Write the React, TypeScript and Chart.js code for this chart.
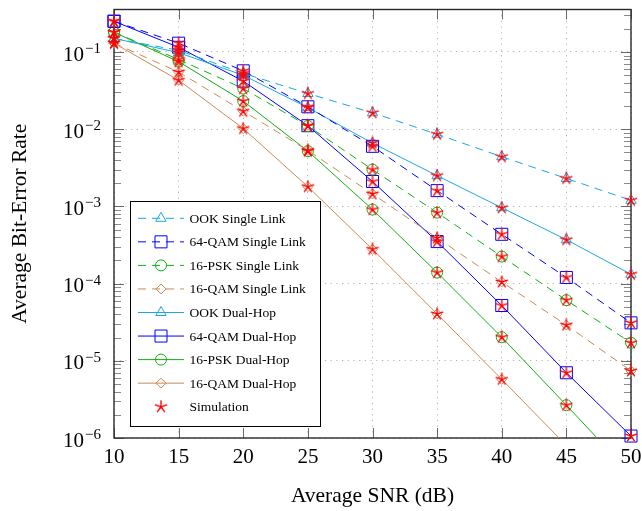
import React, { useEffect, useRef } from 'react';
import { Chart, registerables } from 'chart.js';

Chart.register(...registerables);

// ---------------- data ----------------
const snr = [10, 15, 20, 25, 30, 35, 40, 45, 50];

const ookSingle = [0.15, 0.105, 0.053, 0.029, 0.0163, 0.0086, 0.0044, 0.0023, 0.0012];
const qam64Single = [0.25, 0.13, 0.057, 0.0195, 0.006, 0.0016, 0.000435, 0.00012, 3.1e-5];
const psk16Single = [0.18, 0.08, 0.0336, 0.011, 0.003, 0.00083, 0.000224, 6.1e-5, 1.71e-5];
const qam16Single = [0.13, 0.055, 0.0171, 0.0053, 0.00145, 0.00039, 0.000105, 2.9e-5, 7.4e-6];
const ookDual = [0.15, 0.098, 0.05, 0.019, 0.0066, 0.0025, 0.00096, 0.00037, 0.000132];
const qam64Dual = [0.25, 0.115, 0.042, 0.0111, 0.0021, 0.00035, 5.2e-5, 7e-6, 1.06e-6];
const psk16Dual = [0.18, 0.075, 0.0231, 0.0052, 0.00091, 0.000139, 2.02e-5, 2.66e-6, 3.4e-7];
const qam16Dual = [0.13, 0.043, 0.0102, 0.0018, 0.000278, 4.05e-5, 5.75e-6, 8e-7, 1.1e-7];

const seriesLabels = [
  'OOK Single Link',
  '64-QAM Single Link',
  '16-PSK Single Link',
  '16-QAM Single Link',
  'OOK Dual-Hop',
  '64-QAM Dual-Hop',
  '16-PSK Dual-Hop',
  '16-QAM Dual-Hop',
];
const simulationLabel = 'Simulation';

const xTicks = [10, 15, 20, 25, 30, 35, 40, 45, 50];
const yExponents = [-6, -5, -4, -3, -2, -1];
const xTitle = 'Average SNR (dB)';
const yTitle = 'Average Bit-Error Rate';

const X_MIN = 10;
const X_MAX = 50;
const Y_MIN = 1e-6;
const Y_MAX = 0.355;

// ---------------- styles ----------------
const C_OOK = '#1ca7e3';
const C_Q64 = '#0000ff';
const C_PSK = '#12b012';
const C_Q16 = '#c98b55';
const C_SIM = '#ff0000';

type Marker = 'triangle' | 'rect' | 'circle' | 'rectRot' | 'star';
const seriesValues = [ookSingle, qam64Single, psk16Single, qam16Single, ookDual, qam64Dual, psk16Dual, qam16Dual];
const seriesStyle: { color: string; dashed: boolean; marker: Marker; radius: number }[] = [
  { color: C_OOK, dashed: true, marker: 'triangle', radius: 6 },
  { color: C_Q64, dashed: true, marker: 'rect', radius: 8.5 },
  { color: C_PSK, dashed: true, marker: 'circle', radius: 5.5 },
  { color: C_Q16, dashed: true, marker: 'rectRot', radius: 5 },
  { color: C_OOK, dashed: false, marker: 'triangle', radius: 6 },
  { color: C_Q64, dashed: false, marker: 'rect', radius: 8.5 },
  { color: C_PSK, dashed: false, marker: 'circle', radius: 5.5 },
  { color: C_Q16, dashed: false, marker: 'rectRot', radius: 5 },
];
const DASH = [8, 6];
const FONT = '"Liberation Serif", "Times New Roman", serif';

function makeStar(): HTMLCanvasElement {
  const c = document.createElement('canvas');
  c.width = 14;
  c.height = 14;
  const g = c.getContext('2d')!;
  g.strokeStyle = C_SIM;
  g.lineWidth = 1.35;
  g.lineCap = 'round';
  const cx = 7, cy = 7, r = 6;
  g.beginPath();
  for (let k = 0; k < 5; k++) {
    const a = -Math.PI / 2 + (k * 2 * Math.PI) / 5;
    g.moveTo(cx, cy);
    g.lineTo(cx + r * Math.cos(a), cy + r * Math.sin(a));
  }
  g.stroke();
  return c;
}

function drawMarker(ctx: CanvasRenderingContext2D, m: Marker, x: number, y: number, r: number, color: string, star: HTMLCanvasElement) {
  if (m === 'star') {
    ctx.drawImage(star, x - star.width / 2, y - star.height / 2);
    return;
  }
  ctx.save();
  ctx.strokeStyle = color;
  ctx.lineWidth = 1;
  ctx.setLineDash([]);
  ctx.beginPath();
  if (m === 'triangle') {
    ctx.moveTo(x, y - r);
    ctx.lineTo(x + 0.866 * r, y + 0.5 * r);
    ctx.lineTo(x - 0.866 * r, y + 0.5 * r);
    ctx.closePath();
  } else if (m === 'rect') {
    const s = Math.SQRT1_2 * r;
    ctx.rect(x - s, y - s, 2 * s, 2 * s);
  } else if (m === 'circle') {
    ctx.arc(x, y, r, 0, Math.PI * 2);
  } else if (m === 'rectRot') {
    ctx.moveTo(x - r, y);
    ctx.lineTo(x, y - r);
    ctx.lineTo(x + r, y);
    ctx.lineTo(x, y + r);
    ctx.closePath();
  }
  ctx.stroke();
  ctx.restore();
}

export default function App() {
  const ref = useRef<HTMLCanvasElement>(null);

  useEffect(() => {
    const canvas = ref.current;
    if (!canvas) return;
    const star = makeStar();

    const lineDatasets = seriesValues.map((vals, i) => {
      const st = seriesStyle[i];
      const below = vals.some((v) => v < Y_MIN);
      return {
        label: seriesLabels[i],
        data: snr.map((x, j) => ({ x, y: vals[j] })),
        borderColor: st.color,
        borderWidth: 1,
        borderDash: st.dashed ? DASH : [],
        backgroundColor: 'transparent',
        fill: false,
        tension: 0,
        pointStyle: st.marker,
        pointRadius: st.radius,
        pointBorderWidth: 1,
        pointBorderColor: st.color,
        pointBackgroundColor: 'rgba(0,0,0,0)',
        clip: { left: 12, right: 12, top: 12, bottom: below ? 0 : 8 },
        order: 1,
      };
    });

    const simPoints: { x: number; y: number }[] = [];
    seriesValues.forEach((vals) => {
      vals.forEach((v, j) => {
        if (v >= Y_MIN) simPoints.push({ x: snr[j], y: v });
      });
    });

    const simDataset = {
      label: simulationLabel,
      data: simPoints,
      showLine: false,
      pointStyle: star,
      pointRadius: 6,
      borderColor: C_SIM,
      backgroundColor: C_SIM,
      clip: { left: 12, right: 12, top: 12, bottom: 8 },
      order: 0,
    };

    const framePlugin = {
      id: 'frameTicks',
      beforeDatasetsDraw(chart: any) {
        const { ctx, chartArea } = chart;
        const xs = chart.scales.x;
        const ys = chart.scales.y;
        const { left, right, top, bottom } = chartArea;
        ctx.save();
        ctx.setLineDash([]);
        // minor y ticks
        ctx.strokeStyle = '#8a8a8a';
        ctx.lineWidth = 1;
        ctx.beginPath();
        for (let e = -7; e <= 0; e++) {
          for (let k = 2; k <= 9; k++) {
            const v = k * Number('1e' + e);
            if (v <= Y_MIN || v >= Y_MAX) continue;
            const py = Math.round(ys.getPixelForValue(v)) + 0.5;
            ctx.moveTo(left, py);
            ctx.lineTo(left + 7, py);
            ctx.moveTo(right, py);
            ctx.lineTo(right - 7, py);
          }
        }
        ctx.stroke();
        // major ticks
        ctx.strokeStyle = '#6a6a6a';
        ctx.beginPath();
        yExponents.forEach((e) => {
          const py = Math.round(ys.getPixelForValue(Number('1e' + e))) + 0.5;
          ctx.moveTo(left, py);
          ctx.lineTo(left + 10, py);
          ctx.moveTo(right, py);
          ctx.lineTo(right - 10, py);
        });
        xTicks.forEach((v) => {
          const px = Math.round(xs.getPixelForValue(v)) + 0.5;
          ctx.moveTo(px, bottom);
          ctx.lineTo(px, bottom - 10);
          ctx.moveTo(px, top);
          ctx.lineTo(px, top + 10);
        });
        ctx.stroke();
        // frame
        ctx.strokeStyle = '#2a2a2a';
        ctx.lineWidth = 1.4;
        ctx.strokeRect(left, top, right - left, bottom - top);

        // tick labels
        ctx.fillStyle = '#000';
        ctx.font = `21px ${FONT}`;
        ctx.textAlign = 'center';
        ctx.textBaseline = 'alphabetic';
        xTicks.forEach((v) => {
          ctx.fillText(String(v), xs.getPixelForValue(v), bottom + 25);
        });
        yExponents.forEach((e) => {
          const py = ys.getPixelForValue(Number('1e' + e));
          const expText = '\u2212' + String(-e);
          ctx.font = `15px ${FONT}`;
          const ew = ctx.measureText(expText).width;
          ctx.textAlign = 'right';
          ctx.fillText(expText, left - 13, py + 1);
          ctx.font = `21px ${FONT}`;
          ctx.fillText('10', left - 13 - ew - 1, py + 8.6);
        });
        // axis titles
        ctx.font = `21.5px ${FONT}`;
        ctx.textAlign = 'center';
        ctx.fillText(xTitle, (left + right) / 2, 502);
        ctx.save();
        ctx.translate(26, (top + bottom) / 2);
        ctx.rotate(-Math.PI / 2);
        ctx.fillText(yTitle, 0, 0);
        ctx.restore();
        ctx.restore();
      },
      afterDatasetsDraw(chart: any) {
        const { ctx } = chart;
        const bx = 130.5, by = 201.5, bw = 190, bh = 225;
        ctx.save();
        ctx.fillStyle = '#ffffff';
        ctx.fillRect(bx, by, bw, bh);
        ctx.strokeStyle = '#000';
        ctx.lineWidth = 1;
        ctx.setLineDash([]);
        ctx.strokeRect(bx, by, bw, bh);
        const rowY0 = 218.3;
        const rowH = 23.55;
        const labels = [...seriesLabels, simulationLabel];
        labels.forEach((lab, i) => {
          const cy = rowY0 + i * rowH;
          if (i < seriesStyle.length) {
            const st = seriesStyle[i];
            ctx.strokeStyle = st.color;
            ctx.lineWidth = 1;
            ctx.setLineDash(st.dashed ? DASH : []);
            ctx.beginPath();
            ctx.moveTo(138, cy);
            ctx.lineTo(184, cy);
            ctx.stroke();
            ctx.setLineDash([]);
            drawMarker(ctx, st.marker, 161, cy, st.radius, st.color, star);
          } else {
            drawMarker(ctx, 'star', 161, cy, 6, C_SIM, star);
          }
          ctx.fillStyle = '#000';
          ctx.font = `13.5px ${FONT}`;
          ctx.textAlign = 'left';
          ctx.textBaseline = 'alphabetic';
          ctx.fillText(lab, 189.5, cy + 4.5);
        });
        ctx.restore();
      },
    };

    const chart = new Chart(canvas, {
      type: 'line',
      data: { datasets: [...lineDatasets, simDataset] as any },
      options: {
        animation: false,
        responsive: false,
        devicePixelRatio: 1,
        layout: { padding: { left: 0, top: 8, right: 11, bottom: 0 } },
        plugins: {
          legend: { display: false },
          tooltip: { enabled: false },
        },
        scales: {
          x: {
            type: 'linear',
            min: X_MIN,
            max: X_MAX,
            ticks: { display: false },
            grid: { color: '#b4b4b4', lineWidth: 1, drawTicks: false },
            border: { display: false, dash: [1.2, 4.5] },
            afterBuildTicks: (s: any) => {
              s.ticks = xTicks.map((v) => ({ value: v }));
            },
            afterFit: (s: any) => {
              s.height = 73;
            },
          },
          y: {
            type: 'logarithmic',
            min: Y_MIN,
            max: Y_MAX,
            ticks: { display: false },
            grid: { color: '#b4b4b4', lineWidth: 1, drawTicks: false },
            border: { display: false, dash: [1.2, 4.5] },
            afterBuildTicks: (s: any) => {
              s.ticks = yExponents.map((e) => ({ value: Number('1e' + e) }));
            },
            afterFit: (s: any) => {
              s.width = 114;
            },
          },
        },
      } as any,
      plugins: [framePlugin],
    });

    return () => chart.destroy();
  }, []);

  return (
    <canvas
      ref={ref}
      width={642}
      height={511}
      style={{ position: 'fixed', left: 0, top: 0, width: 642, height: 511 }}
    />
  );
}
